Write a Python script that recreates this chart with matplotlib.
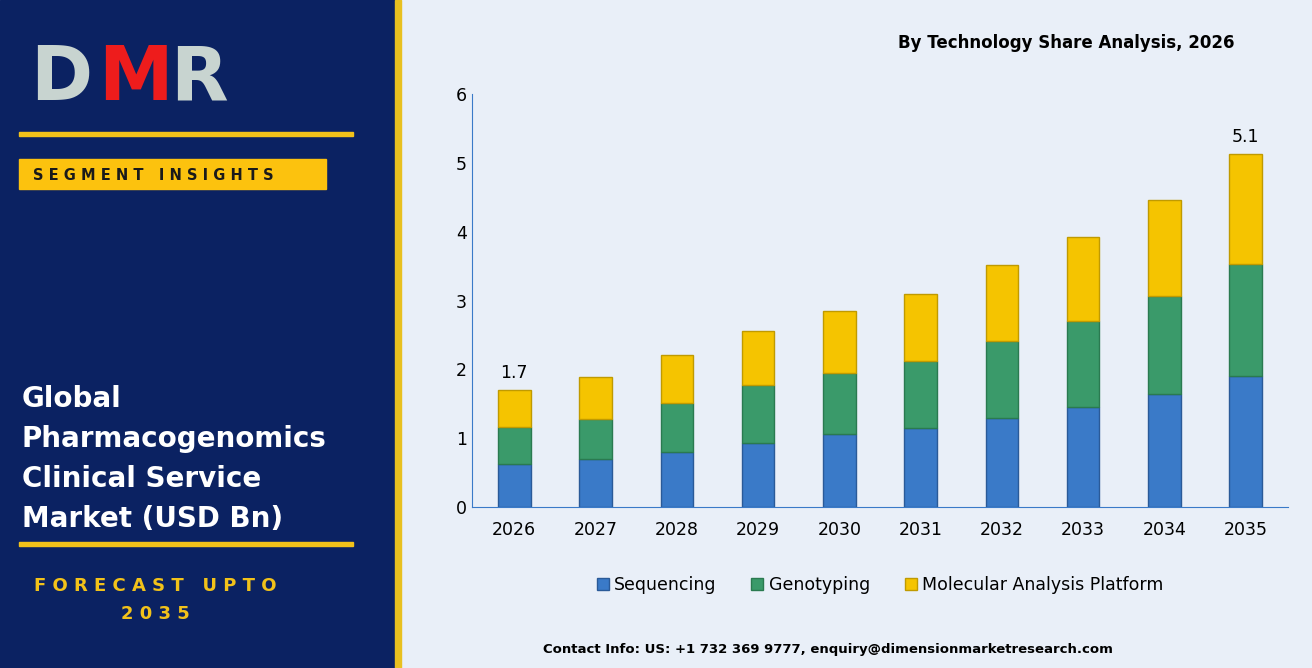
import matplotlib
matplotlib.use("Agg")
import matplotlib.pyplot as plt
from matplotlib.patches import Rectangle
import numpy as np

years = ["2026","2027","2028","2029","2030","2031","2032","2033","2034","2035"]
sequencing = [0.62,0.70,0.80,0.93,1.06,1.15,1.29,1.45,1.64,1.90]
genotyping = [0.54,0.58,0.71,0.84,0.89,0.97,1.12,1.25,1.43,1.63]
molecular = [0.54,0.61,0.70,0.79,0.90,0.98,1.11,1.22,1.39,1.60]
series_names = ["Sequencing","Genotyping","Molecular Analysis Platform"]
colors = ["#3a7ac8","#3a9a6a","#f5c400"]
edges = ["#2a5a98","#2a7a50","#c09a00"]

W,H = 1312,668
fig = plt.figure(figsize=(W/100,H/100), dpi=100)
fig.patch.set_facecolor("#e9eff8")
bg = fig.add_axes([0,0,1,1]); bg.set_xlim(0,W); bg.set_ylim(H,0); bg.axis("off")
bg.add_patch(Rectangle((0,0),395,H,color="#0b2262"))
bg.add_patch(Rectangle((395,0),6,H,color="#e8c020"))
bg.text(30,80,"D",fontsize=54,color="#c8d4d0",fontweight="bold",va="center")
bg.text(98,80,"M",fontsize=54,color="#ee1c1c",fontweight="bold",va="center")
bg.text(170,80,"R",fontsize=54,color="#c8d4d0",fontweight="bold",va="center")
bg.add_patch(Rectangle((19,132),334,4,color="#f2c21a"))
bg.add_patch(Rectangle((19,159),307,30,color="#fcc20e"))
bg.text(33,175,"S E G M E N T   I N S I G H T S",fontsize=10.5,color="#1a1a1a",fontweight="bold",va="center")
for i,t in enumerate(["Global","Pharmacogenomics","Clinical Service","Market (USD Bn)"]):
    bg.text(22,399+40*i,t,fontsize=20,color="white",fontweight="bold",va="center")
bg.add_patch(Rectangle((19,542),334,4,color="#f2c21a"))
bg.text(155,586,"F O R E C A S T   U P T O",fontsize=13,color="#f2c21a",fontweight="bold",ha="center",va="center")
bg.text(155,614,"2 0 3 5",fontsize=13,color="#f2c21a",fontweight="bold",ha="center",va="center")
bg.text(1066,43,"By Technology Share Analysis, 2026",fontsize=12,fontweight="bold",ha="center",va="center")
bg.text(828,649,"Contact Info: US: +1 732 369 9777, enquiry@dimensionmarketresearch.com",fontsize=9.5,fontweight="bold",ha="center",va="center")

ax = fig.add_axes([472/W,1-507/H,(1288-472)/W,(507-94)/H])
ax.set_facecolor("none")
x = np.arange(len(years))
bottom = np.zeros(len(years))
for vals,name,c,e in zip([sequencing,genotyping,molecular],series_names,colors,edges):
    ax.bar(x,vals,0.4,bottom=bottom,color=c,edgecolor=e,linewidth=1,label=name)
    bottom += np.array(vals)
ax.set_ylim(0,6); ax.set_xlim(-0.52,len(years)-0.48)
ax.set_xticks(x); ax.set_xticklabels(years)
ax.set_yticks(range(7))
ax.tick_params(labelsize=12.5,length=0)
ax.tick_params(axis="x",pad=10)
for s in ["top","right"]: ax.spines[s].set_visible(False)
ax.spines["left"].set_color("#3a7ac8"); ax.spines["bottom"].set_color("#3a7ac8")
for i in [0,len(years)-1]:
    ax.text(x[i],bottom[i]+0.12,f"{bottom[i]:.1f}",ha="center",va="bottom",fontsize=12.5)
ax.legend(loc="upper center",bbox_to_anchor=(0.5,-0.13),ncol=3,frameon=False,fontsize=12.5,
          handlelength=0.7,handleheight=0.7,columnspacing=2,handletextpad=0.3)
fig.savefig("out.png",dpi=100,facecolor=fig.get_facecolor())
